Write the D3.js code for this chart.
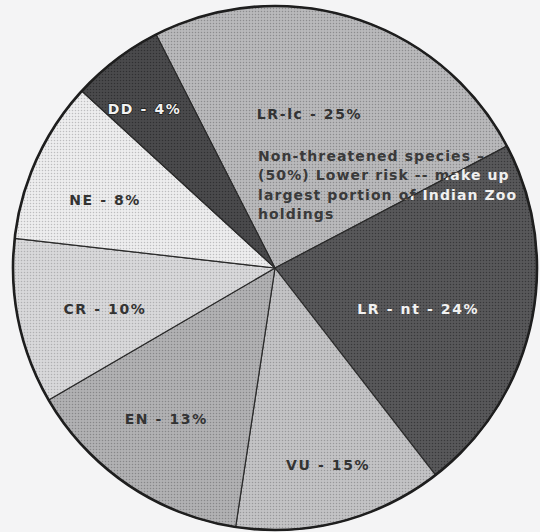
<!DOCTYPE html>
<html>
<head>
<meta charset="utf-8">
<script src="https://cdn.jsdelivr.net/npm/d3@7"></script>
<style>
  html, body { margin: 0; padding: 0; background: #f4f4f5; }
  svg { display: block; }
</style>
</head>
<body>
<div id="chart"></div>
<script>
// categories of IUCN status in the zoo holdings
var categories = ["LR-lc", "LR-nt", "VU", "EN", "CR", "NE", "DD"];
var labelNames = ["LR-lc", "LR - nt", "VU", "EN", "CR", "NE", "DD"];
// percentages printed on the chart
var printedPct = [25, 24, 15, 13, 10, 8, 4];
// slice sizes as actually drawn in the scan (share of the circle, %)
var drawnShare = [24.8, 22.2, 12.9, 14.2, 10.2, 10.0, 5.7];
var noteLines = [
    "Non-threatened species \u2013",
    "(50%) Lower risk -- make up",
    "largest portion of Indian Zoo",
    "holdings"
];

var attrs = {
    svgWidth: 540,
    svgHeight: 532,
    centerX: 275,
    centerY: 268,
    radius: 262,
    startDeg: 333,
    font: "'DejaVu Sans', Verdana, sans-serif"
};

// halftone-ish fills [base, dot]
var fills = {
    "LR-lc": ["#b9b9bb", "#8c8c8e"],
    "LR-nt": ["#58585a", "#38383a"],
    "VU":    ["#c3c3c5", "#98989a"],
    "EN":    ["#b1b1b3", "#878789"],
    "CR":    ["#d8d8da", "#b0b0b2"],
    "NE":    ["#ededee", "#bdbdbf"],
    "DD":    ["#4a4a4c", "#303032"]
};

// label placement: [angle deg clockwise from top, distance from centre]
var labelSpots = {
    "LR-lc": [12.6, 158],
    "LR-nt": [106, 149],
    "VU":    [164.9, 204],
    "EN":    [215.8, 186],
    "CR":    [256.4, 175],
    "NE":    [291.8, 183],
    "DD":    [320.7, 206]
};

var data = categories.map(function (c, i) {
    return { id: c, name: labelNames[i], pct: printedPct[i], share: drawnShare[i] };
});

var svg = d3.select("#chart").append("svg")
    .attr("width", attrs.svgWidth)
    .attr("height", attrs.svgHeight)
    .attr("font-family", attrs.font);

svg.append("rect")
    .attr("width", attrs.svgWidth)
    .attr("height", attrs.svgHeight)
    .attr("fill", "#f4f4f5");

var defs = svg.append("defs");

// dot patterns
data.forEach(function (d) {
    var p = defs.append("pattern")
        .attr("id", "pat-" + d.id)
        .attr("width", 3).attr("height", 3)
        .attr("patternUnits", "userSpaceOnUse");
    p.append("rect").attr("width", 3).attr("height", 3).attr("fill", fills[d.id][0]);
    p.append("circle").attr("cx", 1.5).attr("cy", 1.5).attr("r", 0.75).attr("fill", fills[d.id][1]);
});

var toRad = Math.PI / 180;
var pie = d3.pie()
    .sort(null)
    .value(function (d) { return d.share; })
    .startAngle(attrs.startDeg * toRad)
    .endAngle((attrs.startDeg + 360) * toRad);

var arc = d3.arc().innerRadius(0).outerRadius(attrs.radius);
var arcs = pie(data);

var chart = svg.append("g")
    .attr("transform", "translate(" + attrs.centerX + "," + attrs.centerY + ")");

chart.selectAll("path.slice")
    .data(arcs)
    .enter().append("path")
    .attr("class", "slice")
    .attr("d", arc)
    .attr("fill", function (d) { return "url(#pat-" + d.data.id + ")"; })
    .attr("stroke", "#2a2a2a")
    .attr("stroke-width", 1.2)
    .attr("stroke-linejoin", "round");

// outer border
chart.append("circle")
    .attr("r", attrs.radius)
    .attr("fill", "none")
    .attr("stroke", "#1e1e1e")
    .attr("stroke-width", 2.6);

// clip paths for note text (dark on light, light on dark)
["LR-lc", "LR-nt"].forEach(function (id) {
    var a = arcs.filter(function (d) { return d.data.id === id; })[0];
    defs.append("clipPath").attr("id", "clip-" + id)
        .append("path").attr("d", arc(a));
});

// slice labels
var darkSlices = { "LR-nt": true, "DD": true };
chart.selectAll("text.label")
    .data(arcs)
    .enter().append("text")
    .attr("class", "label")
    .attr("x", function (d) { var s = labelSpots[d.data.id]; return s[1] * Math.sin(s[0] * toRad); })
    .attr("y", function (d) { var s = labelSpots[d.data.id]; return -s[1] * Math.cos(s[0] * toRad); })
    .attr("text-anchor", "middle")
    .attr("dominant-baseline", "central")
    .attr("font-size", 14)
    .attr("font-weight", "bold")
    .attr("letter-spacing", 1.6)
    .attr("fill", function (d) { return darkSlices[d.data.id] ? "#f2f2f2" : "#333"; })
    .attr("stroke", function (d) { return d.data.id === "DD" ? "#222" : "none"; })
    .attr("stroke-width", 1.5)
    .attr("paint-order", "stroke")
    .text(function (d) { return d.data.name + " - " + d.data.pct + "%"; });

// annotation block
function note(clipId, color) {
    chart.append("g")
        .attr("clip-path", "url(#clip-" + clipId + ")")
        .selectAll("text")
        .data(noteLines)
        .enter().append("text")
        .attr("x", -17)
        .attr("y", function (d, i) { return -112 + i * 19.3; })
        .attr("dominant-baseline", "central")
        .attr("font-size", 14)
        .attr("font-weight", "bold")
        .attr("letter-spacing", 1.1)
        .attr("fill", color)
        .text(function (d) { return d; });
}
note("LR-lc", "#3a3a3a");
note("LR-nt", "#f0f0f0");
</script>
</body>
</html>
